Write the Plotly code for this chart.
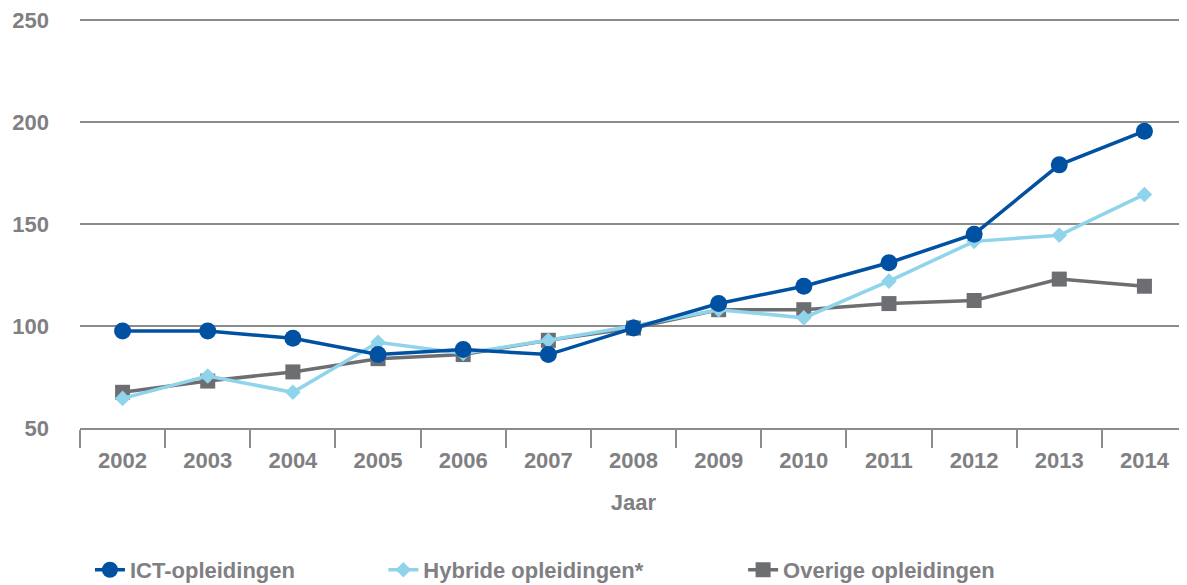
import plotly.graph_objects as go

jaren = ["2002", "2003", "2004", "2005", "2006", "2007", "2008",
         "2009", "2010", "2011", "2012", "2013", "2014"]
ict = [97.5, 97.5, 94, 86, 88.5, 86, 99, 111, 119.5, 131, 145, 179, 195.5]
hybride = [64.5, 75.5, 67.5, 92, 86.5, 93, 100, 108, 104, 122, 141.5, 144.5, 164.5]
overige = [67.5, 73, 77.5, 84, 86, 93, 99, 108, 108, 111, 112.5, 123, 119.5]

grijs = "#808083"
font = dict(family="Liberation Sans, Arial, sans-serif", size=22, color=grijs, weight="bold")

fig = go.Figure()
fig.add_trace(go.Scatter(x=jaren, y=overige, name="Overige opleidingen", mode="lines+markers",
                         line=dict(color="#6d6e71", width=3.5),
                         marker=dict(symbol="square", size=15, color="#6d6e71"),
                         legend="legend3"))
fig.add_trace(go.Scatter(x=jaren, y=hybride, name="Hybride opleidingen*", mode="lines+markers",
                         line=dict(color="#8fd4ea", width=3.5),
                         marker=dict(symbol="diamond", size=12, color="#8fd4ea"),
                         legend="legend2"))
fig.add_trace(go.Scatter(x=jaren, y=ict, name="ICT-opleidingen", mode="lines+markers",
                         line=dict(color="#0051a2", width=3.5),
                         marker=dict(symbol="circle", size=17, color="#0051a2"),
                         legend="legend"))

# page body adds an 8px margin, so the figure is 8px smaller on each axis
leg = dict(orientation="h", xanchor="left", y=-0.295, yanchor="top", font=dict(size=22))
fig.update_layout(
    width=1179, height=577,
    margin=dict(l=72, r=0, t=10, b=157, autoexpand=False),
    plot_bgcolor="white", paper_bgcolor="white",
    font=font,
    showlegend=True,
    legend=dict(leg, x=0.009),
    legend2=dict(leg, x=0.274),
    legend3=dict(leg, x=0.599),
)
fig.update_xaxes(
    type="category", range=[-0.5, len(jaren) - 0.5],
    showgrid=False, showline=True, linecolor="#8c8c8c", linewidth=1.5,
    ticks="outside", tickson="boundaries", ticklen=18, tickwidth=1.5, tickcolor="#8c8c8c",
    ticklabelstandoff=12, automargin=False,
    title=dict(text="Jaar", standoff=22, font=dict(size=22)),
)
fig.update_yaxes(
    range=[50, 251], dtick=50, showgrid=True, gridcolor="#8c8c8c", gridwidth=1.5,
    zeroline=False, showline=False, ticks="", ticklabelstandoff=30, automargin=False,
    ticklabeloverflow="allow",
)

fig.write_html("out.html")
